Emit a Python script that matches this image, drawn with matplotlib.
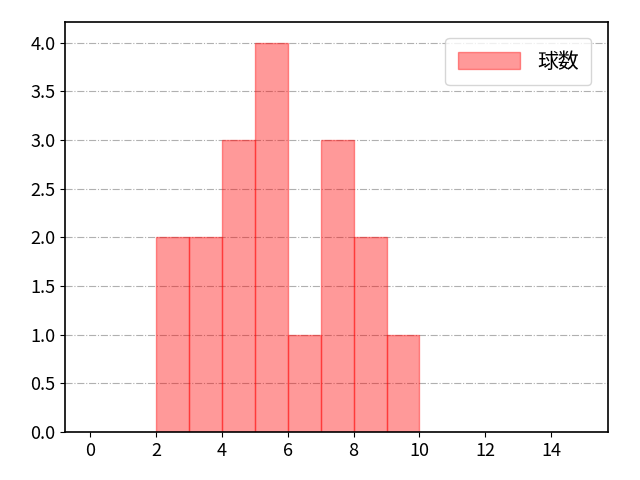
import matplotlib.pyplot as plt

plt.rcParams['font.family'] = ['Noto Sans CJK JP', 'DejaVu Sans']

# 階級の左端と度数
bin_left = [2, 3, 4, 5, 6, 7, 8, 9]
counts = [2, 2, 3, 4, 1, 3, 2, 1]
label = "球数"

fig, ax = plt.subplots(figsize=(6.4, 4.8), dpi=100)
fig.subplots_adjust(left=0.102, right=0.95, top=0.955, bottom=0.1)

ax.bar(bin_left, counts, width=1, align='edge',
       color='red', alpha=0.4, edgecolor='red', linewidth=1, label=label)

ax.set_xlim(-0.76, 15.73)
ax.set_ylim(0, 4.216)
ax.set_xticks(range(0, 15, 2))
ax.set_yticks([i * 0.5 for i in range(9)])
ax.yaxis.grid(True, linestyle='-.', color='#b0b0b0', linewidth=0.8)
ax.set_axisbelow(True)
ax.tick_params(labelsize=13)
for s in ax.spines.values():
    s.set_linewidth(1.2)

ax.legend(loc='upper right', fontsize=15, handlelength=3.0, handleheight=0.9,
          borderpad=0.6, borderaxespad=0.8)

fig.savefig("out.png")
